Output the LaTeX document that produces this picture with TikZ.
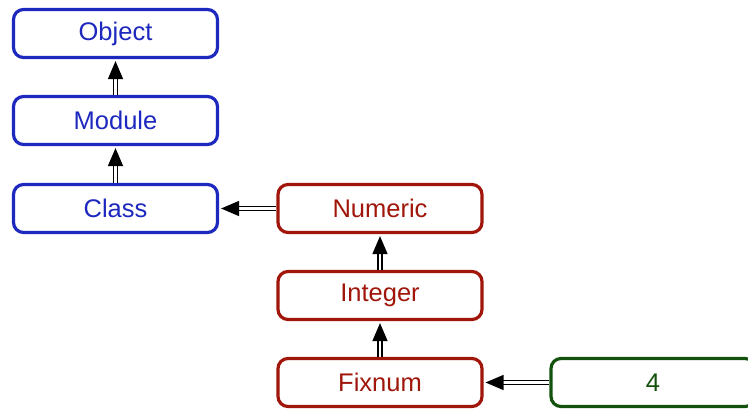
\documentclass[tikz,border=0pt]{standalone}
\usepackage{fontspec}
\setmainfont{Liberation Sans}
\usetikzlibrary{arrows.meta}
\definecolor{cblue}{RGB}{28,40,190}
\definecolor{cred}{RGB}{160,22,10}
\definecolor{cgreen}{RGB}{18,82,12}
\tikzset{
  cls/.style={draw=#1, text=#1, line width=3.2pt, rounded corners=10pt, fill=white,
    minimum width=204pt, minimum height=48pt, inner sep=0pt, font=\fontsize{25.5}{28}\selectfont},
  inh/.style={double=white, double distance=2.6pt, line width=1.4pt, draw=black,
    -{Triangle[length=18pt,width=15pt]}, shorten >=2pt}
}
\begin{document}
\begin{tikzpicture}[x=1pt,y=-1pt]
\useasboundingbox (0,0) rectangle (748,409);
\node[cls=cblue] (object) at (115.5,33.5) {Object};
\node[cls=cblue] (module) at (115.5,120.5) {Module};
\node[cls=cblue] (class) at (115.5,208.5) {Class};
\node[cls=cred] (numeric) at (380,208.5) {Numeric};
\node[cls=cred] (integer) at (380,295.5) {Integer};
\node[cls=cred] (fixnum) at (380,382.5) {Fixnum};
\node[cls=cgreen] (four) at (653,382.5) {4};
\draw[inh] (module) -- (object);
\draw[inh] (class) -- (module);
\draw[inh] (numeric) -- (class);
\draw[inh] (integer) -- (numeric);
\draw[inh] (fixnum) -- (integer);
\draw[inh] (four) -- (fixnum);
\end{tikzpicture}
\end{document}
